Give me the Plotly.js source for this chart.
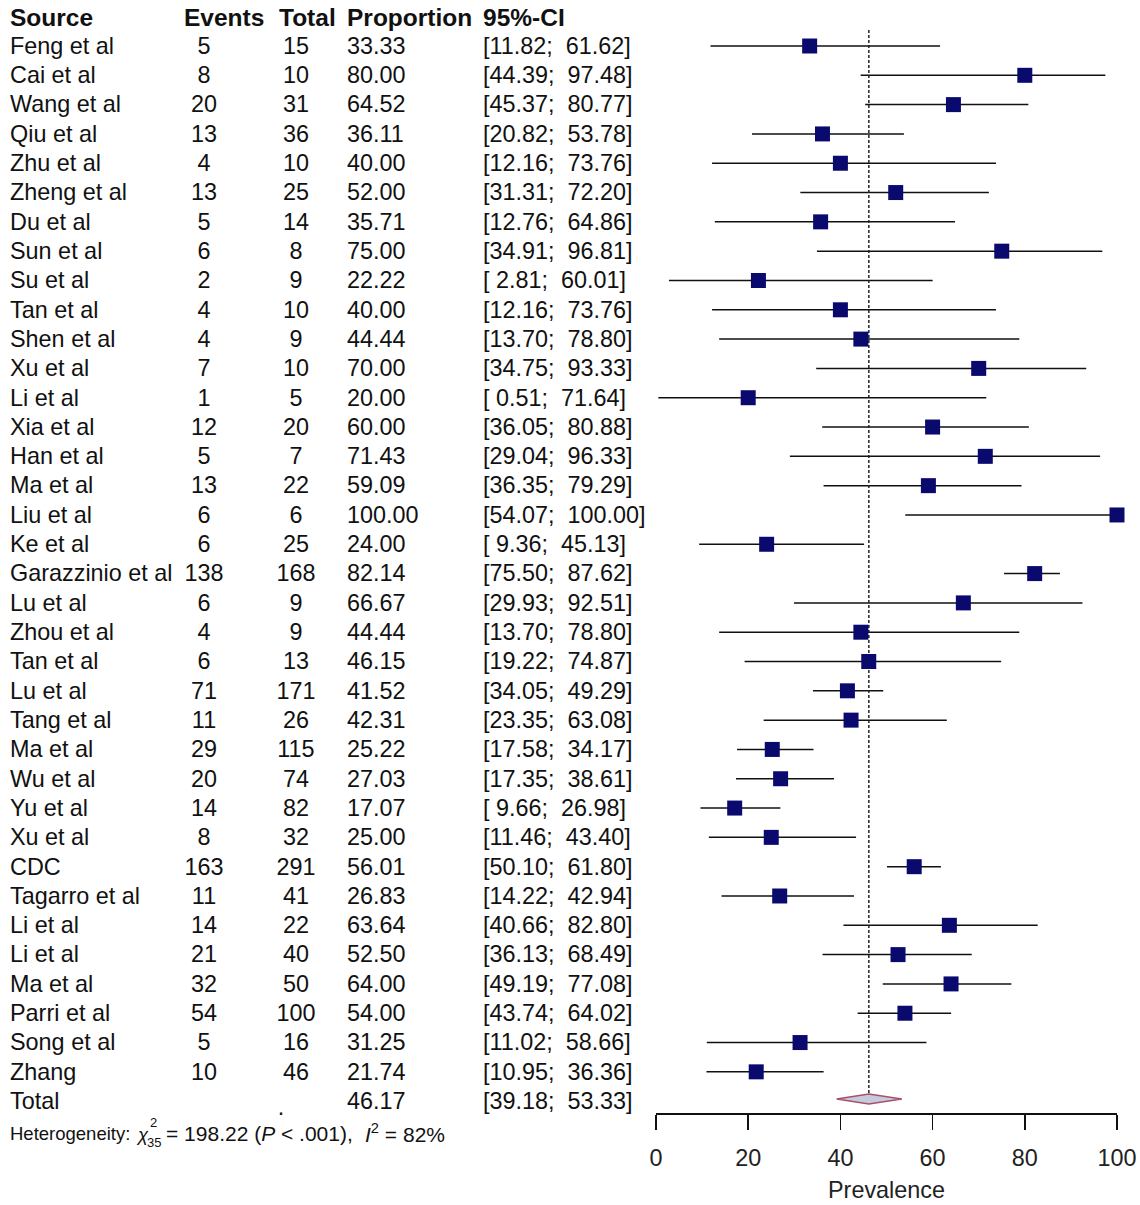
<!DOCTYPE html>
<html>
<head>
<meta charset="utf-8">
<script src="https://cdn.plot.ly/plotly-3.0.1.min.js"></script>
<style>html,body{margin:0;padding:0;background:#fff;}#chart{width:1140px;height:1205px;}</style>
</head>
<body>
<div id="chart"></div>
<script>
const sources = ["Feng et al","Cai et al","Wang et al","Qiu et al","Zhu et al","Zheng et al","Du et al","Sun et al","Su et al","Tan et al","Shen et al","Xu et al","Li et al","Xia et al","Han et al","Ma et al","Liu et al","Ke et al","Garazzinio et al","Lu et al","Zhou et al","Tan et al","Lu et al","Tang et al","Ma et al","Wu et al","Yu et al","Xu et al","CDC","Tagarro et al","Li et al","Li et al","Ma et al","Parri et al","Song et al","Zhang"];
const events = [5,8,20,13,4,13,5,6,2,4,4,7,1,12,5,13,6,6,138,6,4,6,71,11,29,20,14,8,163,11,14,21,32,54,5,10];
const totals = [15,10,31,36,10,25,14,8,9,10,9,10,5,20,7,22,6,25,168,9,9,13,171,26,115,74,82,32,291,41,22,40,50,100,16,46];
const proportions = [33.33,80.00,64.52,36.11,40.00,52.00,35.71,75.00,22.22,40.00,44.44,70.00,20.00,60.00,71.43,59.09,100.00,24.00,82.14,66.67,44.44,46.15,41.52,42.31,25.22,27.03,17.07,25.00,56.01,26.83,63.64,52.50,64.00,54.00,31.25,21.74];
const ciLow = [11.82,44.39,45.37,20.82,12.16,31.31,12.76,34.91,2.81,12.16,13.70,34.75,0.51,36.05,29.04,36.35,54.07,9.36,75.50,29.93,13.70,19.22,34.05,23.35,17.58,17.35,9.66,11.46,50.10,14.22,40.66,36.13,49.19,43.74,11.02,10.95];
const ciHigh = [61.62,97.48,80.77,53.78,73.76,72.20,64.86,96.81,60.01,73.76,78.80,93.33,71.64,80.88,96.33,79.29,100.00,45.13,87.62,92.51,78.80,74.87,49.29,63.08,34.17,38.61,26.98,43.40,61.80,42.94,82.80,68.49,77.08,64.02,58.66,36.36];
const pooled = 46.17, pooledLow = 39.18, pooledHigh = 53.33;
const headers = ["Source","Events","Total","Proportion","95%-CI"];
const xTicks = [0,20,40,60,80,100];
const hetChi = "198.22", hetP = ".001", hetI2 = "82%", hetDf = "35";

// layout geometry (pixels)
const W = 1140, H = 1205, ML = 0, MR = 23, MT = 0, MB = 92;
const PW = W - ML - MR, PH = H - MT - MB;
const rowTop = 46, rowStep = 29.31;
const pyToRow = py => (py - rowTop) / rowStep;
const n = sources.length;
const rows = sources.map((_, i) => i);
const totalRow = n;
const textShift = 2 / rowStep;

const FONT = "Liberation Sans, Arial, sans-serif";
const fs = 23.4;
const txtColor = "#111";

function fmtCI(lo, hi) {
  let l = lo.toFixed(2); if (l.length < 5) l = " " + l;
  return "[" + l + ";  " + hi.toFixed(2) + "]";
}

const colX = {source: 10, events: 204, total: 296, prop: 347, ci: 483};
const headX = [10, 184, 279, 347, 483];

const traces = [];
function textCol(xpx, yvals, texts, pos, bold, size) {
  traces.push({
    type: "scatter", mode: "text", xaxis: "x2", yaxis: "y",
    x: yvals.map(() => xpx), y: yvals.map(v => v + textShift),
    text: texts.map(t => bold ? "<b>" + t + "</b>" : t),
    textposition: pos, cliponaxis: false, hoverinfo: "skip", showlegend: false,
    textfont: {family: FONT, size: size || fs, color: txtColor}
  });
}
const allRows = rows.concat([totalRow]);
textCol(colX.source, allRows, sources.concat(["Total"]), "middle right");
textCol(colX.events, rows, events.map(String), "middle center");
textCol(colX.total, rows, totals.map(String), "middle center");
textCol(colX.prop, allRows, proportions.concat([pooled]).map(v => v.toFixed(2)), "middle right");
textCol(colX.ci, allRows, ciLow.map((l, i) => fmtCI(l, ciHigh[i])).concat([fmtCI(pooledLow, pooledHigh)]), "middle right");
textCol(281, [totalRow + 0.2], ["."], "middle center");
headers.forEach((h, i) => textCol(headX[i], [pyToRow(18)], [h], "middle right", true, 24.5));

// CI lines
const lx = [], ly = [];
rows.forEach(i => { lx.push(ciLow[i], ciHigh[i], null); ly.push(i, i, null); });
traces.push({type: "scatter", mode: "lines", x: lx, y: ly, line: {color: "#111", width: 1.5},
  cliponaxis: false, hoverinfo: "skip", showlegend: false});
// pooled dashed line
traces.push({type: "scatter", mode: "lines", x: [pooled, pooled], y: [pyToRow(30), totalRow],
  line: {color: "#222", width: 1.5, dash: "3px,2px"}, hoverinfo: "skip", showlegend: false, cliponaxis: false});
// squares
traces.push({type: "scatter", mode: "markers", x: proportions, y: rows,
  marker: {symbol: "square", size: 15, color: "#0a0a6e", line: {width: 0}},
  cliponaxis: false, hoverinfo: "skip", showlegend: false});
// diamond
const dh = 5 / rowStep, dc = totalRow - 0.07;
traces.push({type: "scatter", mode: "lines", fill: "toself",
  x: [pooledLow, pooled, pooledHigh, pooled, pooledLow],
  y: [dc, dc - dh, dc, dc + dh, dc],
  fillcolor: "#c6cbdb", line: {color: "#a8506a", width: 1.5},
  hoverinfo: "skip", showlegend: false, cliponaxis: false});

const xDomStart = 656 / PW;
const yBottom = pyToRow(PH), yTopV = pyToRow(0);

// heterogeneity line (paper coords)
const pxToPaperX = px => (px - ML) / PW;
const pyToPaperY = py => (PH + MT - py) / PH;
const hetY = 1133;
const hetFont = {family: FONT, size: 18.5, color: txtColor};
const hetFont2 = {family: FONT, size: 21, color: txtColor};
const smallFont = {family: FONT, size: 13, color: txtColor};
const annotations = [
  {text: "Heterogeneity:", x: pxToPaperX(8), y: pyToPaperY(hetY), font: hetFont},
  {text: "<i>χ</i>", x: pxToPaperX(134), y: pyToPaperY(hetY + 1), font: hetFont},
  {text: "2", x: pxToPaperX(148), y: pyToPaperY(1122), font: smallFont},
  {text: hetDf, x: pxToPaperX(145), y: pyToPaperY(1142), font: smallFont},
  {text: "= " + hetChi + " (<i>P</i> &lt; " + hetP + "),", x: pxToPaperX(164), y: pyToPaperY(hetY), font: hetFont2},
  {text: "<i>I</i><sup>2</sup> = " + hetI2, x: pxToPaperX(363), y: pyToPaperY(hetY), font: hetFont2}
].map(a => Object.assign({xref: "paper", yref: "paper", showarrow: false, xanchor: "left", yanchor: "middle"}, a));

const layout = {
  width: W, height: H,
  margin: {l: ML, r: MR, t: MT, b: MB, pad: 0},
  paper_bgcolor: "#fff", plot_bgcolor: "rgba(0,0,0,0)",
  showlegend: false,
  font: {family: FONT, size: fs, color: txtColor},
  xaxis: {domain: [xDomStart, 1], range: [0, 100], tickvals: xTicks, ticktext: xTicks.map(String),
    showgrid: false, zeroline: false, showline: true, linecolor: "#111", linewidth: 1.5,
    ticks: "outside", ticklen: 15, tickwidth: 1.5, tickcolor: "#111",
    ticklabelstandoff: 8,
    tickfont: {family: FONT, size: fs, color: "#222"},
    title: {text: "Prevalence", font: {family: FONT, size: fs, color: "#222"}, standoff: 12},
    fixedrange: true, anchor: "y"},
  xaxis2: {domain: [0, xDomStart], range: [0, 656], visible: false, fixedrange: true, anchor: "y"},
  yaxis: {range: [yBottom, yTopV], visible: false, fixedrange: true},
  annotations: annotations
};

Plotly.newPlot("chart", traces, layout, {staticPlot: true, displayModeBar: false});
</script>
</body>
</html>
